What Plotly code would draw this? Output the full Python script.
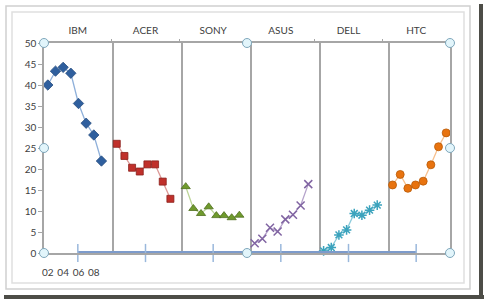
import plotly.graph_objects as go

companies = ["IBM", "ACER", "SONY", "ASUS", "DELL", "HTC"]
year_labels = ["02", "04", "06", "08"]
ibm = [40.0, 43.3, 44.2, 42.8, 35.6, 30.9, 28.1, 21.9]
acer = [26.0, 23.1, 20.3, 19.4, 21.1, 21.1, 17.0, 12.9]
sony = [15.8, 10.6, 9.4, 11.0, 8.9, 8.9, 8.4, 9.0]
asus = [2.3, 3.4, 6.0, 5.1, 8.0, 9.1, 11.3, 16.4]
dell = [0.5, 1.3, 4.3, 5.5, 9.4, 9.0, 10.2, 11.4]
htc = [16.2, 18.7, 15.4, 16.2, 17.1, 21.0, 25.3, 28.6]
baseline = [0, 0, 0, 0, 0, 0]

series = [ibm, acer, sony, asus, dell, htc]
SLOTS = 9  # 8 years + 1 gap per company

styles = [
    dict(symbol="diamond", size=8, color="#2f5f9e", lc="#2a4f80", line="#8fb0da"),
    dict(symbol="square", size=7, color="#c0302b", lc="#8a1f1b", line="#dd9a98"),
    dict(symbol="triangle-up", size=8, color="#6f9a2c", lc="#4f6e1e", line="#bcd597"),
    dict(symbol="x-thin", size=8, color="#8064a2", lc="#8064a2", line="#b5a3cb"),
    dict(symbol="asterisk", size=8, color="#3ba3bd", lc="#3ba3bd", line="#8ccbdc"),
    dict(symbol="circle", size=8, color="#e8730f", lc="#b85a08", line="#f7c08e"),
]

fig = go.Figure()

# baseline helper series on secondary (top) category axis
fig.add_trace(go.Scatter(
    x=companies, y=baseline, xaxis="x2", yaxis="y", mode="lines+markers",
    line=dict(color="#7d9bcb", width=4),
    marker=dict(symbol="line-ns", size=13, color="#9ab8dc",
                line=dict(color="#9ab8dc", width=1.5)),
    cliponaxis=False, showlegend=False, hoverinfo="skip"))

for i, (vals, st) in enumerate(zip(series, styles)):
    xs = [SLOTS * i + j for j in range(len(vals))]
    thin = st["symbol"] in ("x-thin", "asterisk")
    fig.add_trace(go.Scatter(
        x=xs, y=vals, mode="lines+markers", name=companies[i],
        line=dict(color=st["line"], width=1.3),
        marker=dict(symbol=st["symbol"], size=st["size"], color=st["color"],
                    line=dict(color=st["lc"], width=1.5 if thin else 0.8)),
        cliponaxis=False, showlegend=False))

n_cat = SLOTS * len(companies) - 1
GRAY = "#a6a6a6"
TXT = "#404040"
FONT = "Lato, 'Open Sans', sans-serif"

fig.update_layout(
    width=484, height=302,
    margin=dict(l=44, r=34, t=43, b=49),
    paper_bgcolor="white", plot_bgcolor="white",
    font=dict(family=FONT, size=10, color=TXT),
    xaxis=dict(
        range=[-0.5, n_cat - 0.5], showgrid=False, zeroline=False,
        tickmode="array", tickvals=[0, 2, 4, 6], ticktext=year_labels,
        ticks="", ticklabelstandoff=9,
        showline=True, mirror=True, linecolor=GRAY, linewidth=1.5,
        minor=dict(tickmode="array",
                   tickvals=[SLOTS * k - 0.5 for k in range(1, len(companies))],
                   showgrid=True, gridcolor=GRAY, gridwidth=1.8, ticks=""),
        tickfont=dict(size=10, color=TXT),
    ),
    xaxis2=dict(
        type="category", overlaying="x", side="top", anchor="y",
        range=[-0.5, len(companies) - 0.5], showgrid=False, showline=False,
        tickson="boundaries", ticks="outside", ticklen=3, tickcolor=GRAY,
        tickwidth=1, ticklabelstandoff=6,
        tickfont=dict(size=10, color=TXT),
    ),
    yaxis=dict(
        range=[0, 50], dtick=5, showgrid=False, zeroline=False,
        ticks="outside", ticklen=4, tickcolor=GRAY,
        showline=True, mirror=True, linecolor=GRAY, linewidth=1.5,
        tickfont=dict(size=10, color=TXT),
    ),
)

def px(x):
    return (x - 44) / 406.0

def py(y):
    return (253 - y) / 210.0

shapes = []
# outer chart frame (double light border)
shapes.append(dict(type="rect", xref="paper", yref="paper",
                   x0=px(6), x1=px(470), y0=py(289), y1=py(6),
                   line=dict(color="#d0d0d0", width=1.5), layer="below"))
shapes.append(dict(type="rect", xref="paper", yref="paper",
                   x0=px(12), x1=px(464), y0=py(283), y1=py(12),
                   line=dict(color="#e0e0e0", width=1.5), layer="below"))
# drop shadow of the image
shapes.append(dict(type="rect", xref="paper", yref="paper",
                   x0=px(4), x1=px(484), y0=py(299), y1=py(295),
                   fillcolor="#4d4d47", line=dict(width=0), layer="below"))
shapes.append(dict(type="rect", xref="paper", yref="paper",
                   x0=px(479), x1=px(483), y0=py(299), y1=py(4),
                   fillcolor="#4d4d47", line=dict(width=0), layer="below"))
# selection handles
for hx, hy in [(0, 1), (0, 0.5), (0, 0), (0.5, 1), (0.5, 0), (1, 1), (1, 0.5), (1, 0)]:
    shapes.append(dict(type="circle", xref="paper", yref="paper",
                       xsizemode="pixel", ysizemode="pixel",
                       xanchor=hx, yanchor=hy, x0=-4.5, x1=4.5, y0=-4.5, y1=4.5,
                       fillcolor="#e2f5fb", line=dict(color="#7fa7bb", width=1)))
fig.update_layout(shapes=shapes)

fig.write_html("out.html")
